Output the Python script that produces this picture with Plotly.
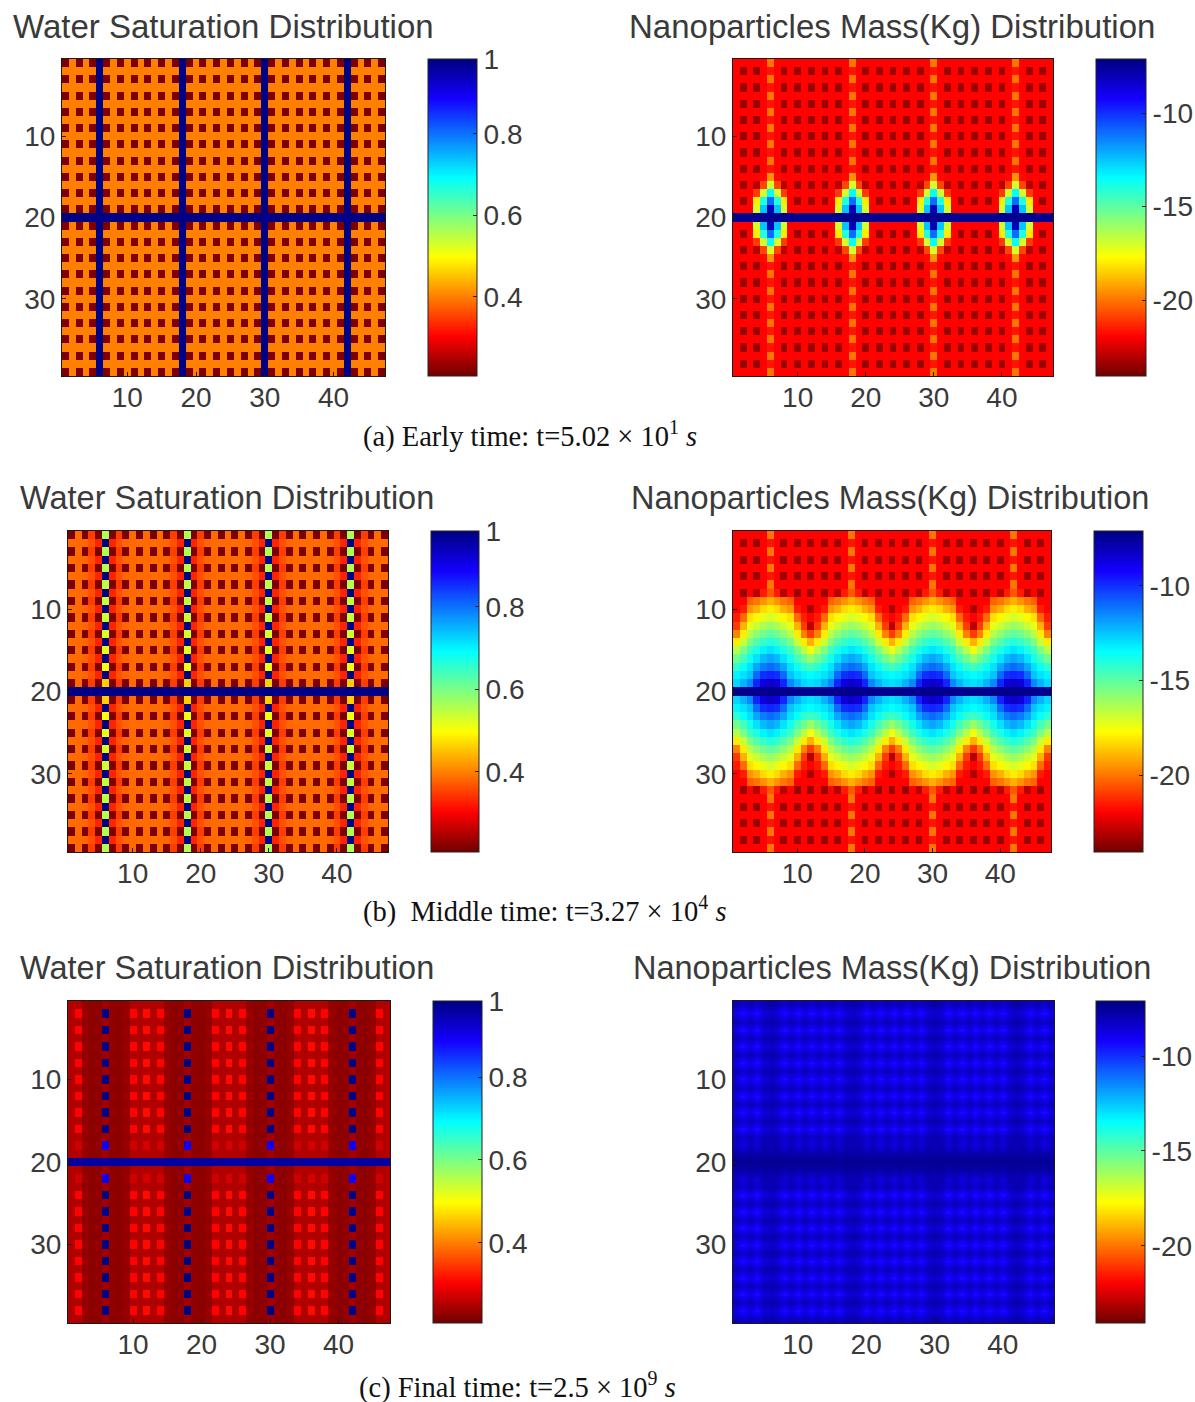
import plotly.graph_objects as go

# Column offsets from the nearest fracture column: d0 d1 d2 d3 d4 d5 d6
COLUMNS = list(range(1, 48))
ROWS = list(range(1, 40))
FRACTURE_PERIOD = [6, 18, 30, 42]

SAT_TICKS = [0.4, 0.6, 0.8, 0.984]
SAT_TICK_TEXT = ["0.4", "0.6", "0.8", "1"]
MASS_TICKS = [-20, -15, -10]
MASS_TICK_TEXT = ["-20", "-15", "-10"]
AXIS_X_TICKS = [10, 20, 30, 40]
AXIS_Y_TICKS = [10, 20, 30]

# Row tables: index 0 = one row from the horizontal fracture (row 19 / 21) ... index 18 = row 1 / 39
SA_ODD = [0.98, 0.215, 0.40, 0.215, 0.40, 0.215, 0.40]
SA_EVEN = [0.98, 0.40, 0.40, 0.40, 0.40, 0.40, 0.40]
SAT_A = [SA_ODD, SA_EVEN] * 9 + [SA_ODD]
SAT_A_LINE = 0.98

SB_EVEN = [0.98, 0.33, 0.365, 0.38, 0.385, 0.385, 0.385]
SB_D0_ODD = [0.46, 0.505, 0.52, 0.53, 0.54, 0.545, 0.55, 0.555, 0.56, 0.56]
SB_ODD_REST = [0.215, 0.35, 0.215, 0.385, 0.215, 0.385]
SAT_B = []
for v in SB_D0_ODD:
    SAT_B.append([v] + SB_ODD_REST)
    SAT_B.append(SB_EVEN)
SAT_B = SAT_B[:19]
SAT_B_LINE = 0.98

SC_ODD = [0.24, 0.225, 0.225, 0.23, 0.25, 0.25, 0.25]
SC_EVEN = [0.98, 0.23, 0.225, 0.235, 0.305, 0.25, 0.31]
SAT_C = [SC_ODD, [0.90, 0.23, 0.225, 0.235, 0.27, 0.25, 0.275]] + [SC_ODD, SC_EVEN] * 8 + [SC_ODD]
SAT_C_LINE = 0.96

MA_ODD = [-20.0, -21.9, -21.9, -21.9, -21.9, -21.9, -21.9]
MA_EVEN = [-21.6, -21.9, -23.4, -21.9, -23.4, -21.9, -23.4]
MASS_A = [
    [-8.0, -12.5, -17.0, -21.9, -21.9, -21.9, -21.9],
    [-11.0, -14.0, -18.0, -21.9, -23.4, -21.9, -23.4],
    [-13.5, -17.0, -21.0, -21.9, -21.9, -21.9, -21.9],
    [-17.0, -20.8, -23.0, -21.9, -23.4, -21.9, -23.4],
    [-19.5, -21.8, -21.9, -21.9, -21.9, -21.9, -21.9],
    MA_EVEN, MA_ODD, MA_EVEN, MA_ODD, MA_EVEN, MA_ODD, MA_EVEN,
    MA_ODD, MA_EVEN, MA_ODD, MA_EVEN, MA_ODD, MA_EVEN, MA_ODD,
]
MASS_A_LINE = -7.3

MASS_B = [
    [-8.3, -8.6, -9.8, -11.5, -12.2, -12.8, -13.0],
    [-9.8, -10.0, -11.0, -12.5, -13.0, -13.3, -13.5],
    [-11.0, -11.3, -12.0, -13.0, -13.6, -14.2, -14.5],
    [-12.0, -12.3, -13.0, -13.8, -14.6, -15.3, -16.0],
    [-13.0, -13.3, -13.9, -14.5, -15.5, -16.5, -17.5],
    [-14.0, -14.3, -14.8, -15.5, -16.8, -18.0, -19.0],
    [-15.0, -15.3, -15.8, -16.5, -18.0, -19.8, -21.0],
    [-16.0, -16.3, -16.8, -17.3, -19.0, -21.0, -23.0],
    [-17.0, -17.3, -17.8, -18.2, -20.2, -21.5, -21.9],
    [-18.0, -18.3, -19.0, -19.5, -21.5, -21.9, -23.2],
    [-19.0, -19.5, -20.0, -20.3, -21.9, -21.9, -21.9],
    [-20.5, -21.5, -23.0, -21.9, -23.4, -21.9, -23.4],
    MA_ODD, MA_EVEN, MA_ODD, MA_EVEN, MA_ODD, MA_EVEN, MA_ODD,
]
MASS_B_LINE = -7.3

MC_ODD = [-7.8, -8.0, -8.4, -8.0, -8.4, -8.0, -8.4]
MC_EVEN = [-8.4, -8.6, -9.5, -8.8, -9.5, -8.8, -9.5]
MASS_C = [
    [-7.7, -7.6, -7.8, -7.7, -7.8, -7.7, -7.8],
    [-8.1, -7.9, -8.6, -8.1, -8.8, -8.2, -8.8],
] + [MC_ODD, MC_EVEN] * 8 + [MC_ODD]
MASS_C_LINE = -7.4


def build_grid(table, line_value):
    grid = []
    for r in ROWS:
        if r == 20:
            grid.append([line_value for _ in COLUMNS])
            continue
        row = table[abs(r - 20) - 1]
        grid.append([row[min(abs(c - f) for f in FRACTURE_PERIOD)] for c in COLUMNS])
    return grid


JET_R = [
    [0.0, "#700000"], [0.125, "#ff0000"], [0.375, "#ffff00"],
    [0.625, "#00ffff"], [0.875, "#1400ff"], [1.0, "#000080"],
]
SAT_RANGE = (0.206, 0.984)
MASS_RANGE = (-24.06, -7.1)

W, H = 1195, 1402
TEXT = "#3a3a3a"
SANS = "Liberation Sans"
SERIF = "Liberation Serif"

# (table, line, kind, plot x0, x1, y0, y1, colorbar x0, x1, title left x, title centre y, title size, smooth)
PANELS = [
    (SAT_A, SAT_A_LINE, "sat", 62, 385, 59, 376, 428, 477, 11, 26, 33, False),
    (MASS_A, MASS_A_LINE, "mass", 733, 1053, 59, 376, 1096, 1146, 627, 26, 33, False),
    (SAT_B, SAT_B_LINE, "sat", 68, 388, 531, 852, 431, 479, 18, 498, 32.5, False),
    (MASS_B, MASS_B_LINE, "mass", 733, 1051, 531, 852, 1094, 1143, 629, 498, 32.5, False),
    (SAT_C, SAT_C_LINE, "sat", 68, 390, 1001, 1323, 433, 482, 18, 968, 32.5, False),
    (MASS_C, MASS_C_LINE, "mass", 733, 1054, 1001, 1323, 1096, 1145, 631, 968, 32.5, "best"),
]
TITLES = {"sat": "Water Saturation Distribution", "mass": "Nanoparticles Mass(Kg) Distribution"}
CAPTIONS = [
    ("(a) Early time: t=5.02 × 10<sup>1</sup> <i>s</i>", 361, 434),
    ("(b)  Middle time: t=3.27 × 10<sup>4</sup> <i>s</i>", 361, 909),
    ("(c) Final time: t=2.5 × 10<sup>9</sup> <i>s</i>", 357, 1385),
]

fig = go.Figure()
annotations = []
layout_axes = {}
for i, (table, line, kind, x0, x1, y0, y1, cx0, cx1, tx, ty, tsize, smooth) in enumerate(PANELS, start=1):
    zmin, zmax = SAT_RANGE if kind == "sat" else MASS_RANGE
    tickvals = SAT_TICKS if kind == "sat" else MASS_TICKS
    ticktext = SAT_TICK_TEXT if kind == "sat" else MASS_TICK_TEXT
    fig.add_trace(go.Heatmap(
        z=build_grid(table, line), x=COLUMNS, y=ROWS, xaxis=f"x{i}", yaxis=f"y{i}",
        colorscale=JET_R, zmin=zmin, zmax=zmax, zsmooth=smooth,
        colorbar=dict(
            x=cx0 / W, xanchor="left", xref="paper", xpad=0, ypad=0,
            y=1 - y1 / H, yanchor="bottom", yref="paper", len=(y1 - y0) / H, lenmode="fraction",
            thickness=cx1 - cx0, thicknessmode="pixels",
            outlinecolor="#222222", outlinewidth=1,
            tickmode="array", tickvals=tickvals, ticktext=ticktext,
            ticks="inside", ticklen=4, tickcolor="#222222",
            tickfont=dict(family=SANS, size=28, color=TEXT),
        ),
    ))
    axis_common = dict(
        showgrid=False, zeroline=False, showline=True, mirror=True, linecolor="#1a1a1a", linewidth=1,
        ticks="inside", ticklen=4, tickcolor="#1a1a1a", tickmode="array",
        tickfont=dict(family=SANS, size=28, color=TEXT),
    )
    layout_axes[f"xaxis{i}"] = dict(
        axis_common, domain=[x0 / W, x1 / W], range=[0.5, 47.5], tickvals=AXIS_X_TICKS,
        anchor=f"y{i}", side="bottom", ticklabelstandoff=-4,
    )
    layout_axes[f"yaxis{i}"] = dict(
        axis_common, domain=[1 - y1 / H, 1 - y0 / H], range=[39.5, 0.5], tickvals=AXIS_Y_TICKS,
        anchor=f"x{i}",
    )
    annotations.append(dict(
        text=TITLES[kind], x=tx / W, y=1 - ty / H, xref="paper", yref="paper",
        xanchor="left", yanchor="middle", showarrow=False,
        font=dict(family=SANS, size=tsize, color=TEXT),
    ))

for text, cx, cy in CAPTIONS:
    annotations.append(dict(
        text=text, x=cx / W, y=1 - cy / H, xref="paper", yref="paper",
        xanchor="left", yanchor="middle", showarrow=False,
        font=dict(family=SERIF, size=28.5, color="#111111"),
    ))

fig.update_layout(
    width=W, height=H, margin=dict(l=0, r=0, t=0, b=0, autoexpand=False),
    paper_bgcolor="white", plot_bgcolor="white", showlegend=False,
    annotations=annotations, **layout_axes,
)
fig.write_html(
    "out.html",
    config={"displayModeBar": False},
    post_script="document.body.style.margin='0';document.documentElement.style.overflow='hidden';",
)
